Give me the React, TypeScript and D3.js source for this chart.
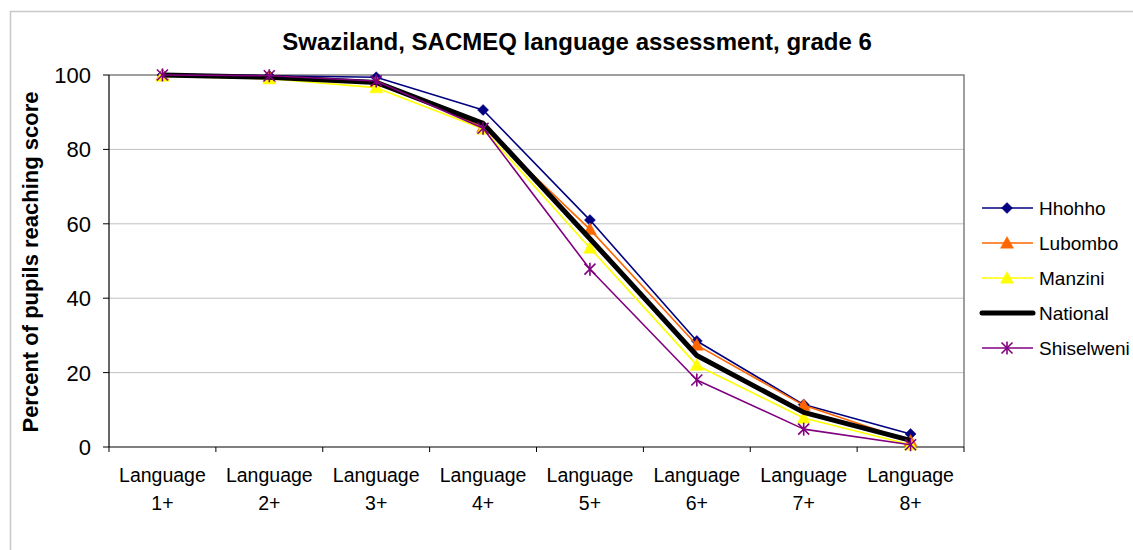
import React from "react";
import * as d3 from "d3";

const categories = ["1+", "2+", "3+", "4+", "5+", "6+", "7+", "8+"];
const hhohho = [100, 99.8, 99.4, 90.6, 61, 28.5, 11.4, 3.5];
const lubombo = [100, 99.5, 98.2, 86, 58.5, 27.4, 11.2, 1.6];
const manzini = [99.7, 99.0, 96.6, 85.5, 53.5, 22, 7.8, 0.6];
const national = [100, 99.4, 98.0, 87, 56, 24.6, 9.3, 1.8];
const shiselweni = [100, 99.8, 98.4, 85.7, 47.8, 18, 4.8, 0.6];
const yTicks = [0, 20, 40, 60, 80, 100];

const seriesList = [
  { name: "Hhohho", values: hhohho, color: "#000080", width: 1.6, marker: "diamond" },
  { name: "Lubombo", values: lubombo, color: "#FF6600", width: 1.6, marker: "triangle" },
  { name: "Manzini", values: manzini, color: "#FFFF00", width: 1.6, marker: "triangle" },
  { name: "National", values: national, color: "#000000", width: 5, marker: "none" },
  { name: "Shiselweni", values: shiselweni, color: "#800080", width: 1.6, marker: "star" },
];

const FONT = "'Liberation Sans', Arial, sans-serif";

function Marker({ type, x, y, color }: { type: string; x: number; y: number; color: string }) {
  if (type === "diamond") {
    const s = 5.5;
    return <path d={`M${x},${y - s}L${x + s},${y}L${x},${y + s}L${x - s},${y}Z`} fill={color} stroke={color} strokeWidth={0.5} />;
  }
  if (type === "triangle") {
    const s = 6.5;
    return <path d={`M${x},${y - s}L${x + s},${y + s * 0.8}L${x - s},${y + s * 0.8}Z`} fill={color} stroke={color} strokeWidth={0.5} />;
  }
  if (type === "star") {
    const s = 5.5;
    return (
      <g stroke={color} strokeWidth={1.6}>
        <line x1={x - s} y1={y - s} x2={x + s} y2={y + s} />
        <line x1={x - s} y1={y + s} x2={x + s} y2={y - s} />
        <line x1={x} y1={y - s - 1} x2={x} y2={y + s + 1} />
      </g>
    );
  }
  return null;
}

export default function App() {
  const W = 1133, H = 550;
  const left = 109, right = 964, top = 75, bottom = 447;
  const x = d3.scaleBand<string>().domain(categories).range([left, right]);
  const y = d3.scaleLinear().domain([0, 100]).range([bottom, top]);
  const cx = (c: string) => (x(c) as number) + x.bandwidth() / 2;
  const line = d3
    .line<number>()
    .x((_, i) => cx(categories[i]))
    .y((v) => y(v));

  const legendX = 982;
  const legendY0 = 208;
  const legendStep = 35;

  return (
    <svg width={W} height={H} style={{ position: "absolute", left: 0, top: 0, background: "#fff" }} fontFamily={FONT}>
      <rect x={0} y={0} width={W} height={H} fill="#fff" />
      {/* outer frame */}
      <path d={`M10.5,${H}V11.5H${W}`} fill="none" stroke="#c8c8c8" strokeWidth={1.5} />
      {/* title */}
      <text x={577} y={50} textAnchor="middle" fontSize={24} fontWeight="bold">
        Swaziland, SACMEQ language assessment, grade 6
      </text>
      {/* gridlines */}
      {yTicks.filter((t) => t > 0 && t < 100).map((t) => (
        <line key={t} x1={left} x2={right} y1={y(t)} y2={y(t)} stroke="#c0c0c0" strokeWidth={1} />
      ))}
      {/* plot border top/right */}
      <path d={`M${left},${top}H${right}V${bottom}`} fill="none" stroke="#808080" strokeWidth={1.5} />
      {/* axes */}
      <line x1={left} x2={left} y1={top} y2={bottom} stroke="#000" strokeWidth={1.2} />
      <line x1={left} x2={right} y1={bottom} y2={bottom} stroke="#000" strokeWidth={1.2} />
      {yTicks.map((t) => (
        <g key={t}>
          <line x1={left - 6} x2={left} y1={y(t)} y2={y(t)} stroke="#000" />
          <text x={91} y={y(t) + 8} textAnchor="end" fontSize={22}>
            {t}
          </text>
        </g>
      ))}
      {[...categories.map((c) => x(c) as number), right].map((px, i) => (
        <line key={i} x1={px} x2={px} y1={bottom} y2={bottom + 5} stroke="#000" />
      ))}
      {categories.map((c) => (
        <g key={c}>
          <text x={cx(c)} y={482} textAnchor="middle" fontSize={19.5}>
            Language
          </text>
          <text x={cx(c)} y={510} textAnchor="middle" fontSize={19.5}>
            {c}
          </text>
        </g>
      ))}
      <text transform={`translate(38,262) rotate(-90)`} textAnchor="middle" fontSize={22} fontWeight="bold">
        Percent of pupils reaching score
      </text>
      {/* series */}
      {seriesList.map((s) => (
        <g key={s.name}>
          <path d={line(s.values) || ""} fill="none" stroke={s.color} strokeWidth={s.width} strokeLinejoin="round" />
          {s.values.map((v, i) => (
            <Marker key={i} type={s.marker} x={cx(categories[i])} y={y(v)} color={s.color} />
          ))}
        </g>
      ))}
      {/* legend */}
      {seriesList.map((s, i) => {
        const ly = legendY0 + i * legendStep;
        return (
          <g key={s.name}>
            <line x1={legendX} x2={legendX + 51} y1={ly} y2={ly} stroke={s.color} strokeWidth={s.width} strokeLinecap={s.width > 2 ? "round" : "butt"} />
            <Marker type={s.marker} x={legendX + 25} y={ly} color={s.color} />
            <text x={legendX + 57} y={ly + 7} fontSize={19}>
              {s.name}
            </text>
          </g>
        );
      })}
    </svg>
  );
}
